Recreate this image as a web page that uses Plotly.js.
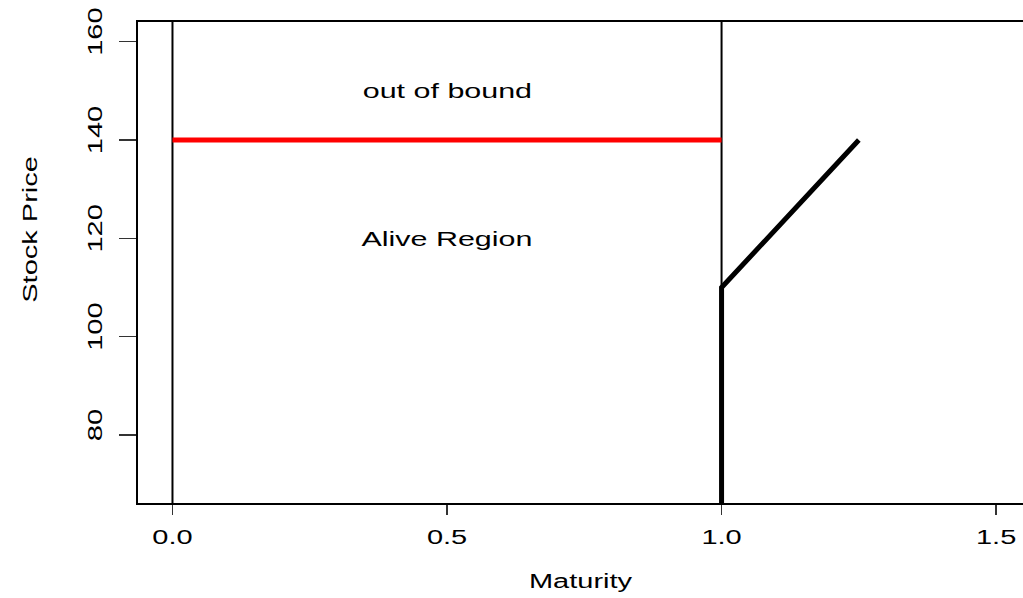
<!DOCTYPE html>
<html>
<head>
<meta charset="utf-8">
<script src="https://cdn.plot.ly/plotly-3.0.1.min.js"></script>
<style>
html, body { margin: 0; padding: 0; background: #ffffff; }
#chart { width: 1023px; height: 598px; }
</style>
</head>
<body>
<div id="chart"></div>
<script>
// ---- data ----
var xTickVals = [0, 0.5, 1, 1.5];
var xTickText = ['0.0', '0.5', '1.0', '1.5'];
var yTickVals = [80, 100, 120, 140, 160];
var yTickText = ['80', '100', '120', '140', '160'];

var refLinesX = [0, 1];                 // thin vertical reference lines
var barrierX = [0, 1];                  // red barrier
var barrierY = [140, 140];
var boundaryX = [1, 1, 1.25];           // thick black boundary
var boundaryY = [60, 110, 140];

var labelText = ['out of bound', 'Alive Region'];
var labelX = [0.5, 0.5];
var labelY = [150, 120];

var xTitle = 'Maturity';
var yTitle = 'Stock Price';

var FONT = 'Liberation Sans, Arial, Helvetica, sans-serif';

var traces = [
  {
    x: barrierX, y: barrierY, mode: 'lines', type: 'scatter',
    line: {color: '#ff0000', width: 5}, hoverinfo: 'skip', showlegend: false
  },
  {
    x: boundaryX, y: boundaryY, mode: 'lines', type: 'scatter',
    line: {color: '#000000', width: 5}, hoverinfo: 'skip', showlegend: false
  }
];

var shapes = refLinesX.map(function (v) {
  return {type: 'line', xref: 'x', yref: 'paper', x0: v, x1: v, y0: 0, y1: 1,
          line: {color: '#000000', width: 2}, layer: 'below'};
});

var annotations = labelText.map(function (t, i) {
  return {text: t, x: labelX[i], y: labelY[i], xref: 'x', yref: 'y',
          showarrow: false, xanchor: 'center', yanchor: 'middle',
          font: {family: FONT, size: 21, color: '#000000'}};
});
annotations.push({
  text: yTitle, xref: 'paper', yref: 'paper', x: 0, y: 0.5676,
  xshift: -108, xanchor: 'center', yanchor: 'middle', textangle: -90,
  showarrow: false, font: {family: FONT, size: 20, color: '#000000'}
});

var layout = {
  width: 1023, height: 598,
  margin: {l: 138, r: 0, t: 22, b: 95, pad: 0},
  paper_bgcolor: '#ffffff', plot_bgcolor: '#ffffff',
  showlegend: false,
  font: {family: FONT, size: 20, color: '#000000'},
  xaxis: {
    range: [-0.0628, 1.549],
    tickmode: 'array', tickvals: xTickVals, ticktext: xTickText,
    ticks: 'outside', ticklen: 10, tickwidth: 1.5, tickcolor: '#333333',
    ticklabelstandoff: 5,
    showline: true, linecolor: '#000000', linewidth: 2, mirror: true,
    showgrid: false, zeroline: false,
    tickfont: {family: FONT, size: 20, color: '#000000'},
    title: {text: xTitle, font: {family: FONT, size: 20, color: '#000000'}, standoff: 27}
  },
  yaxis: {
    range: [66.17, 164.0],
    tickmode: 'array', tickvals: yTickVals, ticktext: yTickText,
    ticks: 'outside', ticklen: 17, tickwidth: 1.5, tickcolor: '#333333',
    tickangle: -90, ticklabelshift: -7, ticklabelstandoff: 9,
    showline: true, linecolor: '#000000', linewidth: 2, mirror: false,
    showgrid: false, zeroline: false,
    tickfont: {family: FONT, size: 20, color: '#000000'}
  },
  shapes: shapes,
  annotations: annotations
};

var gd = document.getElementById('chart');
Plotly.newPlot(gd, traces, layout, {displayModeBar: false, staticPlot: true}).then(function () {
  // the reference draws its lettering horizontally widened
  var STRETCH = 1.45;
  gd.querySelectorAll('svg text').forEach(function (el) {
    var len = el.getComputedTextLength();
    if (len > 0) {
      el.setAttribute('textLength', (len * STRETCH).toFixed(1));
      el.setAttribute('lengthAdjust', 'spacingAndGlyphs');
    }
  });
});
</script>
</body>
</html>
